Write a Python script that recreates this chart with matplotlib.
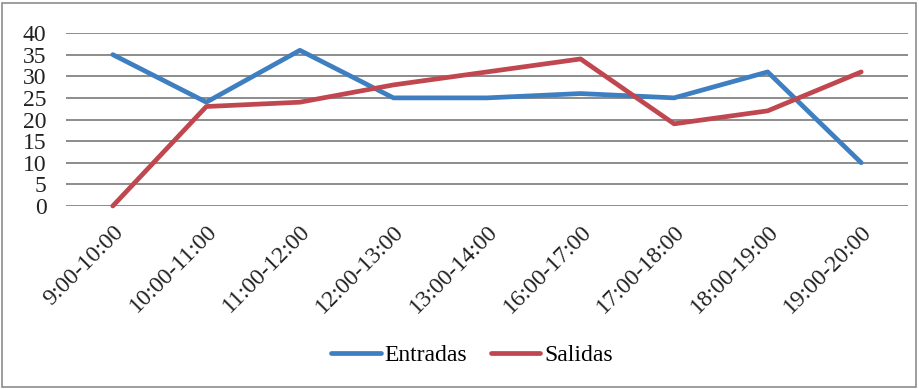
import matplotlib.pyplot as plt
from matplotlib.patches import Rectangle

plt.rcParams['font.family'] = 'serif'
plt.rcParams['font.serif'] = ['Liberation Serif', 'DejaVu Serif']

# data
franjas = ['9:00-10:00', '10:00-11:00', '11:00-12:00', '12:00-13:00', '13:00-14:00',
           '16:00-17:00', '17:00-18:00', '18:00-19:00', '19:00-20:00']
entradas = [35, 24, 36, 25, 25, 26, 25, 31, 10]
salidas = [0, 23, 24, 28, 31, 34, 19, 22, 31]

W, H = 919, 389
fig = plt.figure(figsize=(W / 100, H / 100), dpi=100)
ax = fig.add_axes([66 / W, 1 - 206 / H, (908 - 66) / W, (206 - 33) / H])

x = range(len(franjas))
ax.plot(x, entradas, color='#3d7fc1', lw=3.4, label='Entradas', solid_capstyle='round', clip_on=False)
ax.plot(x, salidas, color='#c0474f', lw=3.4, label='Salidas', solid_capstyle='round', clip_on=False)

ax.set_xlim(-0.5, len(franjas) - 0.5)
ax.set_ylim(0, 40)
ax.set_yticks(range(0, 41, 5))
ax.set_xticks(list(x))
ax.set_xticklabels(franjas, rotation=45, ha='right', rotation_mode='anchor')
ax.tick_params(axis='both', length=0, labelsize=17, colors='#222222')
ax.tick_params(axis='x', pad=11)
ax.tick_params(axis='y', pad=14)
ax.grid(axis='y', color='#8c8c8c', lw=1.4)
ax.set_axisbelow(True)
for s in ax.spines.values():
    s.set_visible(False)

fig.legend(loc='center', bbox_to_anchor=(472 / W, 1 - 355 / H), ncol=2, frameon=False,
           fontsize=17, handlelength=2.1, handletextpad=0.15, columnspacing=1.0)

# outer chart frame
fig.patches.append(Rectangle((2 / W, 2 / H), (W - 5) / W, (H - 5) / H, transform=fig.transFigure,
                             fill=False, edgecolor='#8c8c8c', lw=1.2))

fig.savefig('out.png', dpi=100)
